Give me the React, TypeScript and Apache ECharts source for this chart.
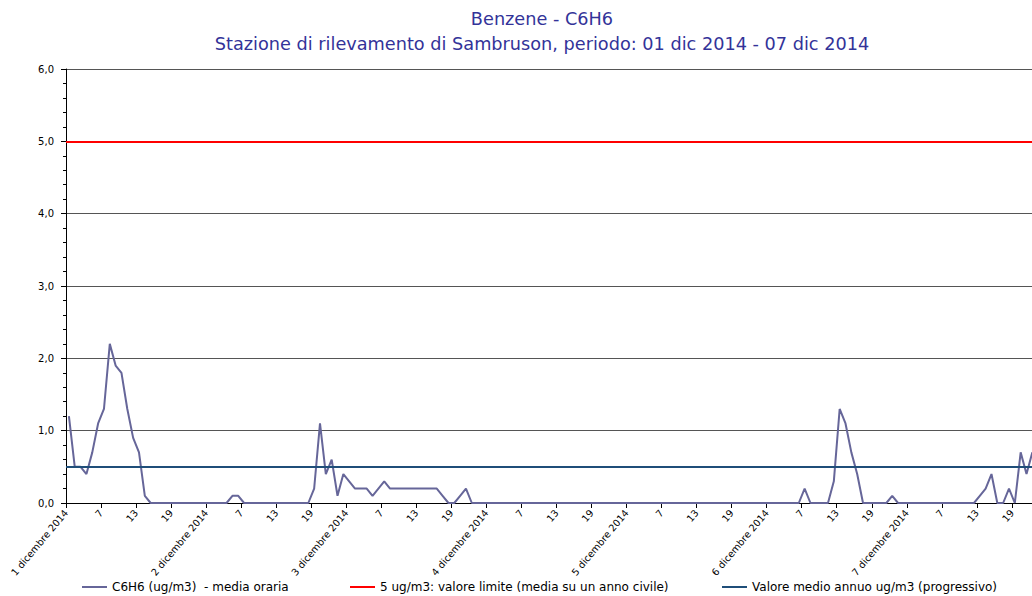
import React, { useEffect, useRef } from "react";
import * as echarts from "echarts";

// Hourly values (hour 1..24) per day, ug/m3
const day1 = [1.2, 0.5, 0.5, 0.4, 0.7, 1.1, 1.3, 2.2, 1.9, 1.8, 1.3, 0.9, 0.7, 0.1, 0, 0, 0, 0, 0, 0, 0, 0, 0, 0];
const day2 = [0, 0, 0, 0, 0.1, 0.1, 0, 0, 0, 0, 0, 0, 0, 0, 0, 0, 0, 0, 0.2, 1.1, 0.4, 0.6, 0.1, 0.4];
const day3 = [0.3, 0.2, 0.2, 0.2, 0.1, 0.2, 0.3, 0.2, 0.2, 0.2, 0.2, 0.2, 0.2, 0.2, 0.2, 0.2, 0.1, 0, 0, 0.1, 0.2, 0, 0, 0];
const day4 = [0, 0, 0, 0, 0, 0, 0, 0, 0, 0, 0, 0, 0, 0, 0, 0, 0, 0, 0, 0, 0, 0, 0, 0];
const day5 = [0, 0, 0, 0, 0, 0, 0, 0, 0, 0, 0, 0, 0, 0, 0, 0, 0, 0, 0, 0, 0, 0, 0, 0];
const day6 = [0, 0, 0, 0, 0, 0, 0.2, 0, 0, 0, 0, 0.3, 1.3, 1.1, 0.7, 0.4, 0, 0, 0, 0, 0, 0.1, 0, 0];
const day7 = [0, 0, 0, 0, 0, 0, 0, 0, 0, 0, 0, 0, 0.1, 0.2, 0.4, 0, 0, 0.2, 0, 0.7, 0.4, 0.7];

const dayLabels = [
  "1 dicembre 2014",
  "2 dicembre 2014",
  "3 dicembre 2014",
  "4 dicembre 2014",
  "5 dicembre 2014",
  "6 dicembre 2014",
  "7 dicembre 2014",
  "8 dicembre 2014",
];
const hourLabels = ["1", "7", "13", "19"];

const limitValue = 5;
const meanValue = 0.5;

const seriesNames = [
  "C6H6 (ug/m3)  - media oraria",
  "5 ug/m3: valore limite (media su un anno civile)",
  "Valore medio annuo ug/m3 (progressivo)",
];

const titleMain = "Benzene - C6H6";
const titleSub = "Stazione di rilevamento di Sambruson, periodo: 01 dic 2014 - 07 dic 2014";

// visible hour range (the picture is cut at the right edge)
const hoursVisible = 165.44;

export default function App() {
  const ref = useRef<HTMLDivElement>(null);

  useEffect(() => {
    if (!ref.current) return;
    const chart = echarts.init(ref.current, null, { renderer: "svg" });
    const hourly = [...day1, ...day2, ...day3, ...day4, ...day5, ...day6, ...day7];
    const data = hourly.map((v, i) => [i + 0.5, v]);
    const font = "DejaVu Sans";

    chart.setOption({
      animation: false,
      backgroundColor: "#ffffff",
      title: [
        {
          text: titleMain,
          left: 537,
          top: 5,
          textAlign: "center",
          textStyle: { color: "#333399", fontSize: 17.7, fontWeight: "normal", fontFamily: font },
        },
        {
          text: titleSub,
          left: 537,
          top: 30,
          textAlign: "center",
          textStyle: { color: "#333399", fontSize: 17.7, fontWeight: "normal", fontFamily: font },
        },
      ],
      legend: [
        { data: [seriesNames[0]], left: 82, top: 581 },
        { data: [seriesNames[1]], left: 350, top: 581 },
        { data: [seriesNames[2]], left: 722, top: 581 },
      ].map((l) => ({
        ...l,
        icon: "rect",
        itemWidth: 25,
        itemHeight: 2,
        itemGap: 5,
        padding: 0,
        textStyle: { color: "#000", fontSize: 12, fontFamily: font },
      })),
      grid: { left: 66, top: 69, right: 0, height: 434, containLabel: false },
      xAxis: {
        type: "value",
        min: 0,
        max: hoursVisible,
        interval: 6,
        axisLine: { show: true, lineStyle: { color: "#000", width: 1 } },
        axisTick: { show: true, length: 5, lineStyle: { color: "#000" } },
        splitLine: { show: false },
        axisLabel: {
          rotate: 50,
          margin: 8,
          fontSize: 9.7,
          fontFamily: font,
          color: "#000",
          showMaxLabel: false,
          formatter: (v: number) => {
            const d = Math.floor(v / 24);
            const h = v % 24;
            if (h === 0) return dayLabels[d];
            return hourLabels[h / 6];
          },
        },
      },
      yAxis: {
        type: "value",
        min: 0,
        max: 6,
        interval: 1,
        axisLine: { show: true, lineStyle: { color: "#000", width: 1 } },
        axisTick: { show: true, length: 5, lineStyle: { color: "#000" } },
        minorTick: { show: true, splitNumber: 5, length: 3, lineStyle: { color: "#000" } },
        splitLine: { show: true, lineStyle: { color: "#555", width: 1 } },
        axisLabel: {
          margin: 12,
          fontSize: 10,
          fontFamily: font,
          color: "#000",
          formatter: (v: number) => v.toFixed(1).replace(".", ","),
        },
      },
      series: [
        {
          name: seriesNames[0],
          type: "line",
          data,
          showSymbol: false,
          symbol: "none",
          color: "#666699",
          lineStyle: { color: "#666699", width: 2 },
          z: 3,
        },
        {
          name: seriesNames[1],
          type: "line",
          data: [],
          color: "#ff0000",
          lineStyle: { color: "#ff0000", width: 2 },
          markLine: {
            silent: true,
            symbol: "none",
            label: { show: false },
            lineStyle: { color: "#ff0000", width: 2, type: "solid" },
            data: [{ yAxis: limitValue }],
          },
          z: 4,
        },
        {
          name: seriesNames[2],
          type: "line",
          data: [],
          color: "#1f4e79",
          lineStyle: { color: "#1f4e79", width: 2 },
          markLine: {
            silent: true,
            symbol: "none",
            label: { show: false },
            lineStyle: { color: "#1f4e79", width: 2, type: "solid" },
            data: [{ yAxis: meanValue }],
          },
          z: 4,
        },
      ],
    });

    return () => chart.dispose();
  }, []);

  return (
    <div
      ref={ref}
      style={{ position: "fixed", left: 0, top: 0, width: 1032, height: 596, background: "#fff" }}
    />
  );
}
